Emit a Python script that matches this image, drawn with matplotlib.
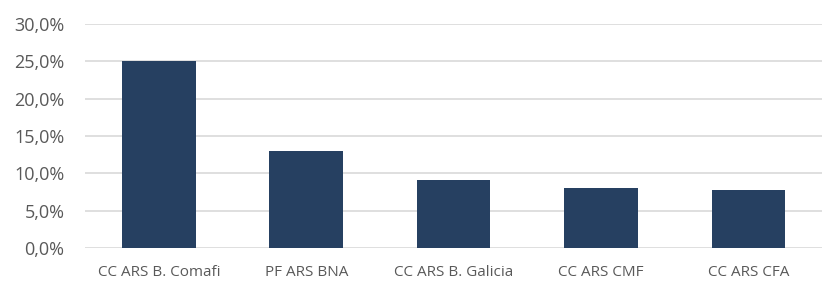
import matplotlib
matplotlib.use('Agg')
import matplotlib.pyplot as plt
from matplotlib.ticker import FuncFormatter, MultipleLocator

categories = ['CC ARS B. Comafi', 'PF ARS BNA', 'CC ARS B. Galicia', 'CC ARS CMF', 'CC ARS CFA']
values = [25.0, 13.0, 9.1, 8.1, 7.8]

plt.rcParams['font.family'] = ['Open Sans', 'DejaVu Sans']

fig = plt.figure(figsize=(8.27, 2.81), dpi=100)
ax = fig.add_axes([0.103, 0.117, 0.891, 0.798])

ax.bar(range(len(categories)), values, width=0.5, color='#264061', zorder=3)

ax.set_xlim(-0.5, len(categories) - 0.5)
ax.set_ylim(0, 30)
ax.yaxis.set_major_locator(MultipleLocator(5))
ax.yaxis.set_major_formatter(FuncFormatter(lambda v, _: f'{v:.1f}%'.replace('.', ',')))
ax.set_xticks(range(len(categories)))
ax.set_xticklabels(categories)

ax.grid(axis='y', color='#d9d9d9', lw=1.2, zorder=0)
for s in ax.spines.values():
    s.set_visible(False)
ax.tick_params(length=0)
ax.tick_params(axis='y', labelsize=13, labelcolor='#595959', pad=15)
ax.tick_params(axis='x', labelsize=11, labelcolor='#595959', pad=12)

fig.savefig('out.png', dpi=100)
